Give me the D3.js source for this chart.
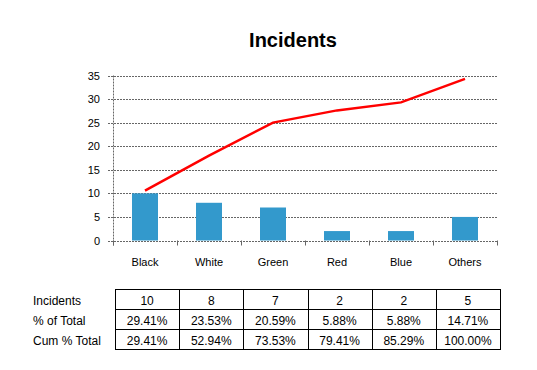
<!DOCTYPE html>
<html>
<head>
<meta charset="utf-8">
<script src="https://cdn.jsdelivr.net/npm/d3@7"></script>
<style>
  body { margin: 0; background: #fff; }
  svg { display: block; font-family: "Liberation Sans", Arial, sans-serif; }
</style>
</head>
<body>
<div id="viz"></div>
<script>
// chart data
var categories = ['Black', 'White', 'Green', 'Red', 'Blue', 'Others'];
var incidents = [10, 8, 7, 2, 2, 5];
var cumLine = [10.6, 18, 25, 27.6, 29.3, 34.3];   // red cumulative line
var yTicks = [0, 5, 10, 15, 20, 25, 30, 35];
var rowLabels = ['Incidents', '% of Total', 'Cum % Total'];
var pctTotal = ['29.41%', '23.53%', '20.59%', '5.88%', '5.88%', '14.71%'];
var cumPct = ['29.41%', '52.94%', '73.53%', '79.41%', '85.29%', '100.00%'];

var W = 537, H = 370;
var plot = { left: 113, right: 497, top: 75.5, bottom: 240.5 };

var svg = d3.select('#viz').append('svg')
  .attr('width', W)
  .attr('height', H);

svg.append('rect').attr('width', W).attr('height', H).attr('fill', '#fff');

// title
svg.append('text')
  .attr('x', 293).attr('y', 47)
  .attr('text-anchor', 'middle')
  .style('font-size', '20px')
  .style('font-weight', 'bold')
  .text('Incidents');

var xScale = d3.scaleBand()
  .domain(categories)
  .range([plot.left, plot.right]);

var yScale = d3.scaleLinear()
  .domain([0, 35])
  .range([plot.bottom, plot.top]);

// gridlines (dotted grey)
svg.append('g').selectAll('line').data(yTicks)
  .enter().append('line')
  .attr('x1', plot.left - 5)
  .attr('x2', plot.right)
  .attr('y1', d => Math.round(yScale(d)) + 0.5)
  .attr('y2', d => Math.round(yScale(d)) + 0.5)
  .attr('stroke', '#666')
  .attr('stroke-dasharray', '2,1');

// y axis line
svg.append('line')
  .attr('x1', plot.left + 0.5).attr('x2', plot.left + 0.5)
  .attr('y1', plot.top).attr('y2', plot.bottom + 5)
  .attr('stroke', '#666')
  .attr('stroke-dasharray', '2,1');

// y tick labels
var yAxis = d3.axisLeft(yScale).tickValues(yTicks).tickSize(0).tickPadding(13);
var yGuide = svg.append('g')
  .attr('transform', 'translate(' + plot.left + ',0)')
  .call(yAxis);
yGuide.select('.domain').remove();
yGuide.selectAll('text').style('font-size', '11px').attr('fill', '#000')
  .style('font-family', '"Liberation Sans", Arial, sans-serif');

// category ticks on the x axis
var bounds = categories.map(c => xScale(c)).concat([plot.right]);
svg.append('g').selectAll('line').data(bounds)
  .enter().append('line')
  .attr('x1', d => Math.round(d) + 0.5)
  .attr('x2', d => Math.round(d) + 0.5)
  .attr('y1', plot.bottom)
  .attr('y2', plot.bottom + 5)
  .attr('stroke', '#666');

// category labels
svg.append('g').selectAll('text').data(categories)
  .enter().append('text')
  .attr('x', d => xScale(d) + xScale.bandwidth() / 2)
  .attr('y', 266)
  .attr('text-anchor', 'middle')
  .style('font-size', '11px')
  .text(d => d);

// bars
var barW = 26;
svg.append('g').selectAll('rect').data(incidents)
  .enter().append('rect')
  .attr('x', (d, i) => xScale(categories[i]) + xScale.bandwidth() / 2 - barW / 2)
  .attr('y', d => yScale(d))
  .attr('width', barW)
  .attr('height', d => yScale(0) - yScale(d))
  .attr('fill', '#3399cc');

// cumulative line
var line = d3.line()
  .x((d, i) => xScale(categories[i]) + xScale.bandwidth() / 2)
  .y(d => yScale(d));

svg.append('path')
  .datum(cumLine)
  .attr('d', line)
  .attr('fill', 'none')
  .attr('stroke', '#ff0000')
  .attr('stroke-width', 2.5);

// data table
var tScale = d3.scaleBand()
  .domain(categories)
  .range([115, 500]);
var rowTop = 290, rowH = 20;
var tableRows = [incidents.map(String), pctTotal, cumPct];

var table = svg.append('g');
table.append('rect')
  .attr('x', 115.5).attr('y', rowTop - 0.5)
  .attr('width', 385).attr('height', rowH * 3)
  .attr('fill', 'none').attr('stroke', '#000');

table.selectAll('.vline').data(categories.slice(1))
  .enter().append('line')
  .attr('x1', d => Math.round(tScale(d)) + 0.5)
  .attr('x2', d => Math.round(tScale(d)) + 0.5)
  .attr('y1', rowTop - 0.5).attr('y2', rowTop - 0.5 + rowH * 3)
  .attr('stroke', '#000');

table.selectAll('.hline').data([1, 2])
  .enter().append('line')
  .attr('x1', 115.5).attr('x2', 500.5)
  .attr('y1', d => rowTop - 0.5 + d * rowH)
  .attr('y2', d => rowTop - 0.5 + d * rowH)
  .attr('stroke', '#000');

table.selectAll('.rlabel').data(rowLabels)
  .enter().append('text')
  .attr('x', 33)
  .attr('y', (d, i) => rowTop + i * rowH + 15)
  .style('font-size', '12px')
  .text(d => d);

tableRows.forEach(function(row, r) {
  table.append('g').selectAll('text').data(row)
    .enter().append('text')
    .attr('x', (d, i) => tScale(categories[i]) + tScale.bandwidth() / 2)
    .attr('y', rowTop + r * rowH + 15)
    .attr('text-anchor', 'middle')
    .style('font-size', '12px')
    .text(d => d);
});
</script>
</body>
</html>
